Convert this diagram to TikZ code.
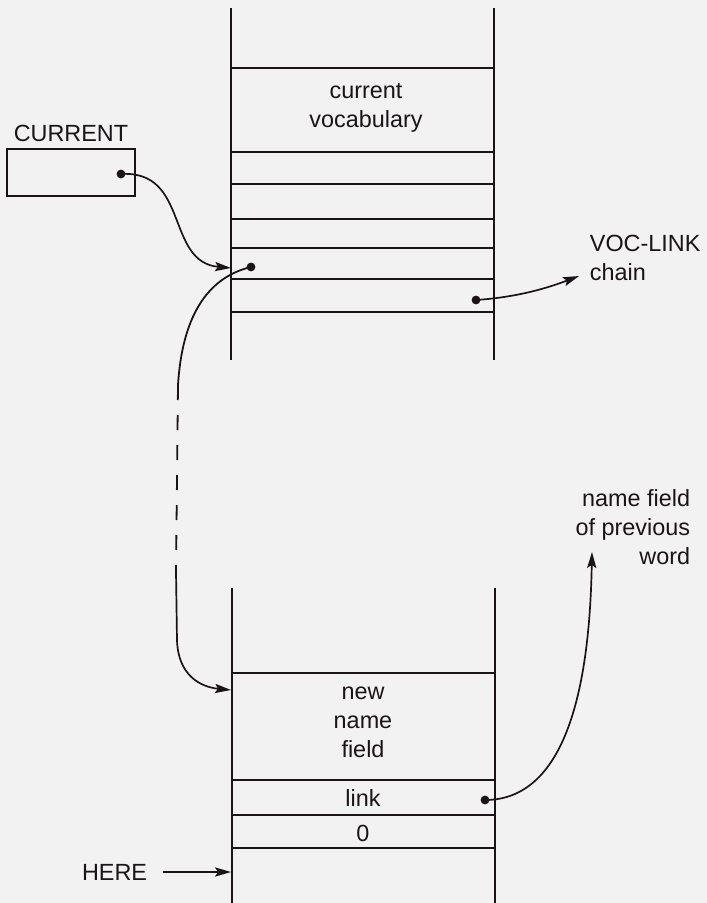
\documentclass[tikz,border=0pt]{standalone}
\usepackage{fontspec}
\setmainfont{Liberation Sans}
\usetikzlibrary{arrows.meta}
\definecolor{paper}{HTML}{F2F2F2}
\definecolor{ink}{HTML}{1A1418}
\begin{document}
\begin{tikzpicture}[x=0.5bp,y=-0.5bp,
  line width=0.9pt, draw=ink, text=ink,
  every node/.style={font=\fontsize{11.7bp}{14.5bp}\selectfont, inner sep=0pt},
  label/.style={align=center},
  ptr/.style={circle, fill=ink, minimum size=4.4bp, inner sep=0pt},
  link/.style={-{Stealth[length=8bp,width=4.6bp,inset=1.5bp]}, line width=0.85pt},
  cellline/.style={line width=0.95pt}]
  % page
  \fill[paper] (0,0) rectangle (707,903);
  \useasboundingbox (0,0) rectangle (707,903);

  % ---- vocabulary in the dictionary (top stack) ----
  \draw[cellline] (231,8) -- (231,360);
  \draw[cellline] (494,8) -- (494,360);
  \foreach \yy in {68,152,184,219,248,279,312}
    \draw[cellline] (231,\yy) -- (494,\yy);
  \node[label] (vocab) at (366,108) {current\\vocabulary};
  \coordinate (topentry) at (231,268);
  \node[ptr] (lastdot) at (251,267) {};
  \node[ptr] (vocdot) at (476,300) {};

  % ---- CURRENT variable ----
  \node[draw, minimum width=64bp, minimum height=23.5bp, line width=0.9pt]
       (current) at (71,172.5) {};
  \node (currentlbl) at (71,133) {CURRENT};
  \node[ptr] (curdot) at (121,174) {};

  % ---- VOC-LINK ----
  \node[anchor=west, align=left] (voclink) at (589,258) {VOC-LINK\\chain};
  \coordinate (voctip) at (579,276);

  % ---- new definition (bottom stack) ----
  \draw[cellline] (232,588) -- (232,903);
  \draw[cellline] (495,588) -- (495,903);
  \foreach \yy in {673,780,815,848}
    \draw[cellline] (232,\yy) -- (495,\yy);
  \node[label] (newname) at (363,722) {new\\name\\field};
  \node (linklbl) at (363,798) {link};
  \node (zero) at (363,833) {0};
  \coordinate (newentry) at (231,690);
  \node[ptr] (linkdot) at (485,800) {};

  % ---- labels on the left and right ----
  \node[anchor=east] (here) at (148,872) {HERE};
  \coordinate (heretip) at (231,872);
  \node[anchor=east, align=right] (prevname) at (691,527)
       {name field\\of previous\\word};
  \coordinate (prevtip) at (592,552);

  % ---- pointers ----
  \draw[link] (curdot.center) .. controls (190,170) and (165,262) .. (topentry);
  \draw[link] (vocdot.center) .. controls (520,297) and (550,287) .. (voctip);
  \draw (lastdot.center) .. controls (205,278) and (182,320) .. (178,385);
  \draw[dash pattern=on 7.5bp off 7.5bp] (178,385) -- (176,572);
  \draw[link] (176,572) -- (177,640) .. controls (178,675) and (200,687) .. (newentry);
  \draw[link] (linkdot.center) .. controls (575,800) and (590,660) .. (prevtip);
  \draw[link] (here.east) ++(15,0) -- (heretip);
\end{tikzpicture}
\end{document}
